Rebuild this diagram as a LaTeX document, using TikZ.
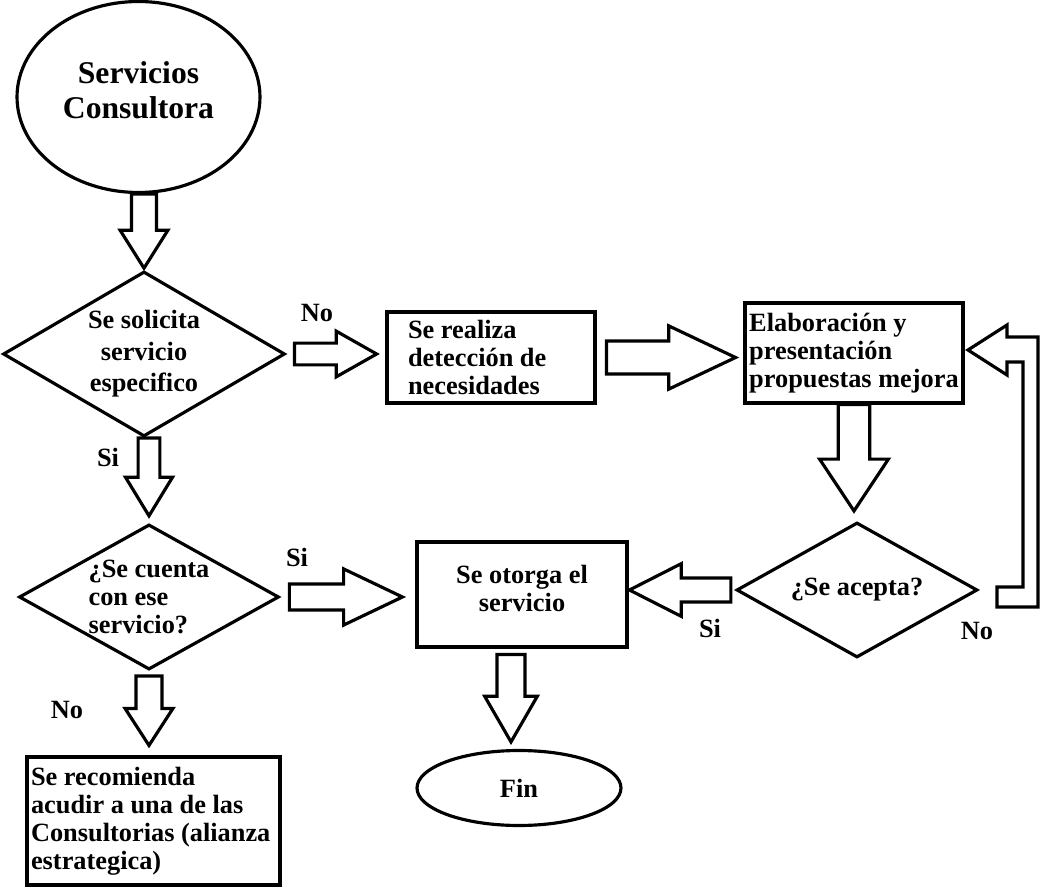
\documentclass[tikz,border=0pt]{standalone}
\usepackage{fontspec}
\setmainfont{Liberation Serif}
\usetikzlibrary{shapes.geometric, calc, positioning}

\tikzset{
  caja/.style={draw, rectangle, line width=1.8pt, align=flush left},
  rombo/.style={draw, diamond, line width=1.8pt, aspect=1.7, inner sep=0pt, align=center},
  elipse/.style={draw, ellipse, line width=1.8pt},
  etiq/.style={inner sep=0pt},
  % flecha de bloque: medio ancho cuerpo, medio ancho punta, largo punta, hueco inicio, hueco fin
  blk/.style n args={5}{draw, line width=1.8pt, line join=miter, to path={
      let \p1=(\tikztostart), \p2=(\tikztotarget),
          \n1={atan2(\y2-\y1,\x2-\x1)}, \n2={veclen(\x2-\x1,\y2-\y1)} in
      ($(\p1)+(\n1:#4)+({\n1+90}:#1)$)
      -- ($(\p1)+(\n1:{\n2*1pt-#5-#3})+({\n1+90}:#1)$)
      -- ($(\p1)+(\n1:{\n2*1pt-#5-#3})+({\n1+90}:#2)$)
      -- ($(\p1)+(\n1:{\n2*1pt-#5})$)
      -- ($(\p1)+(\n1:{\n2*1pt-#5-#3})+({\n1-90}:#2)$)
      -- ($(\p1)+(\n1:{\n2*1pt-#5-#3})+({\n1-90}:#1)$)
      -- ($(\p1)+(\n1:#4)+({\n1-90}:#1)$) -- cycle}},
}

\begin{document}
\begin{tikzpicture}[x=0.02cm, y=0.02cm, font=\bfseries\fontsize{15}{16}\selectfont]
  \useasboundingbox (0,0) rectangle (1042,-888);

  % nodos
  \node[elipse, minimum width=4.86cm, minimum height=3.82cm,
        font=\bfseries\fontsize{18}{20}\selectfont, align=center] (ini) at (138.5,-97) {Servicios\\Consultora\\[-12pt]};
  \node[rombo, minimum width=5.64cm, minimum height=3.3cm,
        font=\bfseries\fontsize{15}{18}\selectfont] (sol) at (144,-354) {Se solicita\\servicio\\especifico};
  \node[caja, minimum height=1.82cm, inner xsep=0.42cm, text width=3.32cm] (det) at (491,-357.5)
        {Se realiza\\detección de\\necesidades};
  \node[caja, minimum width=4.36cm, minimum height=2cm, inner xsep=0.04cm, align=left] (ela) at (854,-353)
        {Elaboración y\\presentación\\propuestas mejora};
  \node[rombo, minimum width=4.82cm, minimum height=2.7cm] (acp) at (857,-590) {¿Se acepta?};
  \node[rombo, minimum width=5.2cm, minimum height=2.86cm, align=left] (cue) at (149,-597)
        {¿Se cuenta\\con ese\\servicio?};
  \node[caja, minimum width=4.2cm, minimum height=2.1cm, align=center] (oto) at (522,-594.5)
        {Se otorga el\\servicio\\[-9pt]};
  \node[caja, minimum height=2.56cm, inner xsep=0.08cm, text width=4.9cm] (rec) at (153.5,-821)
        {Se recomienda\\acudir a una de las\\Consultorias (alianza\\estrategica)};
  \node[elipse, minimum width=4.08cm, minimum height=1.5cm] (fin) at (519,-788) {Fin};

  % etiquetas
  \node[etiq] (no1) at (317,-313) {No};
  \node[etiq] (si1) at (108,-457) {Si};
  \node[etiq] (si2) at (297,-557) {Si};
  \node[etiq] (no2) at (67,-710) {No};
  \node[etiq] (si3) at (710,-628) {Si};
  \node[etiq] (no3) at (977,-631) {No};

  % flechas
  \draw[blk={7.1pt}{13.6pt}{21.6pt}{0pt}{1pt}] (sol.north |- ini.south) to (sol.north);
  \draw[blk={6.2pt}{13pt}{23pt}{4.5pt}{5pt}] (sol.east) to (sol.east -| det.west);
  \draw[blk={9.4pt}{18pt}{38pt}{5.7pt}{4.5pt}] (det.east) to (det.east -| ela.west);
  \draw[blk={9pt}{19.6pt}{29.5pt}{0pt}{5.7pt}] (ela.south) to (ela.south |- acp.north);
  \draw[blk={6.8pt}{15pt}{29.5pt}{2.3pt}{0.5pt}] (acp.west) to (acp.west -| oto.east);
  \draw[blk={6.2pt}{13.4pt}{22pt}{0pt}{4pt}] (cue.north |- sol.south) to (cue.north);
  \draw[blk={7.4pt}{16pt}{33.5pt}{5pt}{7.4pt}] (cue.east) to (cue.east -| oto.west);
  \draw[blk={7.4pt}{13.6pt}{21pt}{2.8pt}{5.7pt}] (cue.south) to (cue.south |- rec.north);
  \draw[blk={8pt}{15pt}{26pt}{3.4pt}{4pt}] ([xshift=-0.22cm]oto.south) to ([xshift=-0.22cm]oto.south |- fin.north);

  % retorno No
  \draw[line width=1.8pt, line join=miter] (997,-587) -- (1023,-587) -- (1023,-362) -- (1007,-362)
    -- (1007,-375) -- (968,-350) -- (1007,-325) -- (1007,-337) -- (1038,-337) -- (1038,-607)
    -- (997,-607) -- cycle;
\end{tikzpicture}
\end{document}
